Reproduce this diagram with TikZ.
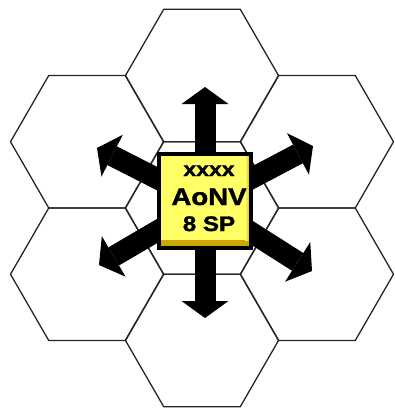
\documentclass[tikz,border=0pt]{standalone}
\usepackage{fontspec}
\setmainfont{Liberation Sans}[FakeStretch=1.15,BoldFeatures={FakeBold=1.6}]
\usetikzlibrary{arrows.meta}
\definecolor{boxyellow}{HTML}{FFFF66}
\definecolor{bevelgold}{HTML}{C9A200}
\begin{document}
\begin{tikzpicture}[x=1pt,y=-1pt,
  hexline/.style={draw=black!85,line width=1.3pt,line join=round},
  fatarrow/.style={line width=21pt,-{Triangle[length=17pt,width=47pt,line width=0pt]}},
  unitbox/.style={draw=black,line width=4pt,fill=boxyellow,minimum width=92pt,
    minimum height=94pt,inner sep=0pt,
    path picture={
      \shade[top color=boxyellow,bottom color=bevelgold]
        (path picture bounding box.south west) rectangle ([yshift=8pt]path picture bounding box.south east);
      \shade[left color=boxyellow,right color=bevelgold]
        ([xshift=-6pt]path picture bounding box.north east) rectangle ([yshift=8pt]path picture bounding box.south east);
    }},
  boxtext/.style={anchor=base,inner sep=0pt}]
\useasboundingbox (0,0) rectangle (394,410);
% hex grid
\foreach \cx/\cy in {202/208,202/75.5,202/340.5,87/141.75,87/274.25,317/141.75,317/274.25}
  \draw[hexline] (\cx,\cy) +(0:76.5) -- +(60:76.5) -- +(120:76.5) -- +(180:76.5)
    -- +(240:76.5) -- +(300:76.5) -- cycle;
% arrows out of the unit
\coordinate (hub) at (205,203);
\coordinate (tipN) at (205,87);
\coordinate (tipS) at (205,318);
\coordinate (tipNW) at (97,148);
\coordinate (tipSW) at (99,265);
\coordinate (tipNE) at (313,146);
\coordinate (tipSE) at (312,271);
\foreach \t in {N,S,NW,SW,NE,SE}
  \draw[fatarrow] (hub) -- (tip\t);
% the unit
\node[unitbox] (unit) at (205,201) {};
\node[boxtext,font=\bfseries\fontsize{20}{20}\selectfont] (size) at (209,176) {xxxx};
\node[boxtext,font=\bfseries\fontsize{24}{24}\selectfont] (name) at (209,205) {AoNV};
\node[boxtext,font=\bfseries\fontsize{21}{21}\selectfont] (moves) at (209,231) {8 SP};
\end{tikzpicture}
\end{document}
